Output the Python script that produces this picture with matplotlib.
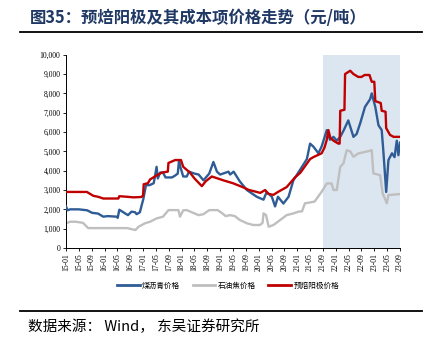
import matplotlib
matplotlib.use('Agg')
import matplotlib.pyplot as plt
from matplotlib.lines import Line2D

# months since 2015-01
tick_labels = ['15-01', '15-05', '15-09', '16-01', '16-05', '16-09', '17-01', '17-05', '17-09',
               '18-01', '18-05', '18-09', '19-01', '19-05', '19-09', '20-01', '20-05', '20-09',
               '21-01', '21-05', '21-09', '22-01', '22-05', '22-09', '23-01', '23-05', '23-09']

pitch_m = [0, 0.5, 1.3, 4, 6.6, 8.1, 10, 11.6, 13, 15.8, 16.1, 16.6, 18.3, 19.3, 20.4, 21.5, 22, 23,
           24.1, 24.9, 26, 27.3, 27.7, 28.2, 28.6, 29.3, 30.2, 31, 33, 34, 34.8, 35.2, 35.6, 36.5,
           37.6, 38.3, 40, 41.3, 42.8, 44.6, 45.9, 47, 48, 50.6, 51.1, 52.2, 54.1, 56.3, 59.4, 61.5,
           62.5, 64.1, 65.1, 66, 67.7, 69.3, 70.8, 72.9, 75, 76, 77, 78.6, 79.6, 81.2, 82.2, 83.3,
           84.3, 85.4, 86.5, 87.9, 89.5, 90.5, 91.6, 93.1, 94.7, 95.2, 96.3, 97.3, 98.3, 98.8, 99.7,
           100.4, 101.5, 102.3, 103, 103.5, 104]
pitch_v = [2150, 1950, 2000, 2000, 1950, 1820, 1780, 1620, 1650, 1620, 1560, 1980, 1800, 1700, 1880,
           1850, 1750, 1850, 2550, 3250, 3250, 3350, 3700, 4200, 3600, 3900, 3900, 3650, 3650, 3750,
           3850, 4550, 4200, 3700, 3700, 3950, 3850, 3800, 3500, 3850, 4450, 3950, 3800, 3950, 3800,
           3950, 3450, 3000, 2650, 2500, 2900, 2650, 2150, 2650, 2300, 2650, 3500, 4050, 4600, 5400,
           5250, 4900, 5250, 6100, 5600, 5750, 5550, 5750, 6100, 6600, 5750, 5900, 6450, 7300, 7700,
           8000, 7300, 6350, 6100, 5050, 2900, 4550, 4900, 4700, 5550, 4800, 5450]

coke_m = [0, 1.3, 3, 5.3, 6.9, 19, 21.6, 22.6, 24.6, 26.2, 28.2, 30.2, 31.9, 35, 35.5, 36.5, 37.6,
          41.3, 42.8, 44.6, 47.2, 48.7, 49.7, 51.1, 52.6, 54.1, 56.3, 58.3, 60.4, 61.2, 61.5, 62.3,
          63.1, 64.6, 66.7, 68.7, 70.8, 72.4, 73.5, 74.4, 77.4, 79.6, 81.2, 82.7, 83.3, 84.3, 85.4,
          86.4, 87.4, 88.5, 89.5, 91, 94.7, 95.2, 95.7, 97.8, 98.6, 99.9, 100.4, 104]
coke_v = [1280, 1360, 1360, 1300, 1030, 1030, 930, 1100, 1280, 1360, 1530, 1620, 1960, 1960, 1620,
          1950, 1960, 1700, 1750, 1960, 1960, 1790, 1650, 1700, 1650, 1450, 1280, 1190, 1190, 1300,
          1790, 1700, 1100, 1190, 1450, 1700, 1790, 1880, 1900, 2310, 2400, 2910, 3340, 3340, 3000,
          3000, 4200, 4380, 5060, 5000, 4720, 4890, 5030, 5060, 3860, 3770, 2830, 2310, 2740, 2790]

anode_m = [0, 6.5, 7, 8.5, 10, 11.6, 16.3, 16.6, 19, 21, 23.5, 24, 24.2, 25.5, 26.2, 27.7, 29.8, 31.7,
           31.9, 34, 35.8, 36.5, 38.6, 40, 42.3, 43.5, 45.4, 49, 52, 55, 57, 59.4, 60.5, 62, 63, 64.6,
           66, 68.7, 71.3, 73, 74.5, 76, 77, 79.6, 80.5, 81.2, 81.7, 82.3, 83.3, 84.8, 85.2, 85.4,
           86.7, 86.9, 88.5, 89.5, 91, 92, 93, 94.5, 95.2, 96, 96.3, 98, 98.3, 99.5, 99.7, 100.9,
           102, 104]
anode_v = [2900, 2900, 2850, 2700, 2650, 2560, 2560, 2680, 2650, 2620, 2640, 2720, 3300, 3350, 3550,
           3700, 3900, 3950, 4400, 4550, 4550, 4200, 3900, 3600, 3200, 3450, 3700, 3500, 3350, 3150,
           3000, 2900, 2850, 3000, 2800, 2750, 2900, 3150, 3650, 3900, 4250, 4600, 4700, 4900, 5200,
           5600, 6100, 5700, 5550, 5400, 5400, 7100, 7150, 9000, 9170, 9000, 8850, 8850, 8950, 8950,
           8600, 8600, 7600, 7500, 7100, 7050, 6200, 5850, 5750, 5750]

shade_start = 80  # 21-09
shade_end = 104   # 23-09

plt.rcParams['font.family'] = ['Noto Sans CJK SC', 'DejaVu Sans']

fig = plt.figure(figsize=(4.32, 3.46), dpi=100)
ax = fig.add_axes([66 / 432, 1 - 248 / 346, 334 / 432, 193.3 / 346])

ax.axvspan(shade_start, shade_end, ymin=0, ymax=1, color='#DCE6F1', lw=0, zorder=0)
ax.plot(coke_m, coke_v, color='#BFBFBF', lw=1.7, zorder=2)
ax.plot(pitch_m, pitch_v, color='#2F5C95', lw=1.7, zorder=3)
ax.plot(anode_m, anode_v, color='#C00000', lw=1.7, zorder=4)

ax.set_xlim(0, 104)
ax.set_ylim(0, 10000)
ax.set_xticks(range(0, 105, 4))
ax.set_xticklabels(tick_labels, rotation=90, fontsize=5.5, family='Liberation Serif')
ax.set_yticks(range(0, 10001, 1000))
ax.set_yticklabels([f'{v:,}' for v in range(0, 10001, 1000)], fontsize=5.5, family='Liberation Serif')
ax.tick_params(axis='both', length=2.5, width=0.6, pad=1.5)
for s in ['top', 'right']:
    ax.spines[s].set_visible(False)
for s in ['left', 'bottom']:
    ax.spines[s].set_linewidth(0.7)

handles = [Line2D([], [], color='#2F5C95', lw=2),
           Line2D([], [], color='#BFBFBF', lw=2),
           Line2D([], [], color='#C00000', lw=2)]
fig.legend(handles, ['煤沥青价格', '石油焦价格', '预焙阳极价格'], loc='center',
           bbox_to_anchor=(228 / 432, 1 - 286 / 346), ncol=3, frameon=False,
           fontsize=5.5, handlelength=3.0, columnspacing=1.6, handletextpad=0.3)

fig.text(30 / 432, 1 - 18 / 346, '图35：预焙阳极及其成本项价格走势（元/吨）', fontsize=11.8,
         fontweight='bold', color='#1F3864', va='center', ha='left')
fig.add_artist(Line2D([20 / 432, 422 / 432], [1 - 32 / 346, 1 - 32 / 346], color='black', lw=1.3))
fig.add_artist(Line2D([20 / 432, 422 / 432], [1 - 311 / 346, 1 - 311 / 346], color='black', lw=1.3))
fig.text(28 / 432, 1 - 327 / 346, '数据来源： Wind， 东吴证券研究所', fontsize=10.5,
         color='black', va='center', ha='left')

fig.savefig('out.png', dpi=100)
